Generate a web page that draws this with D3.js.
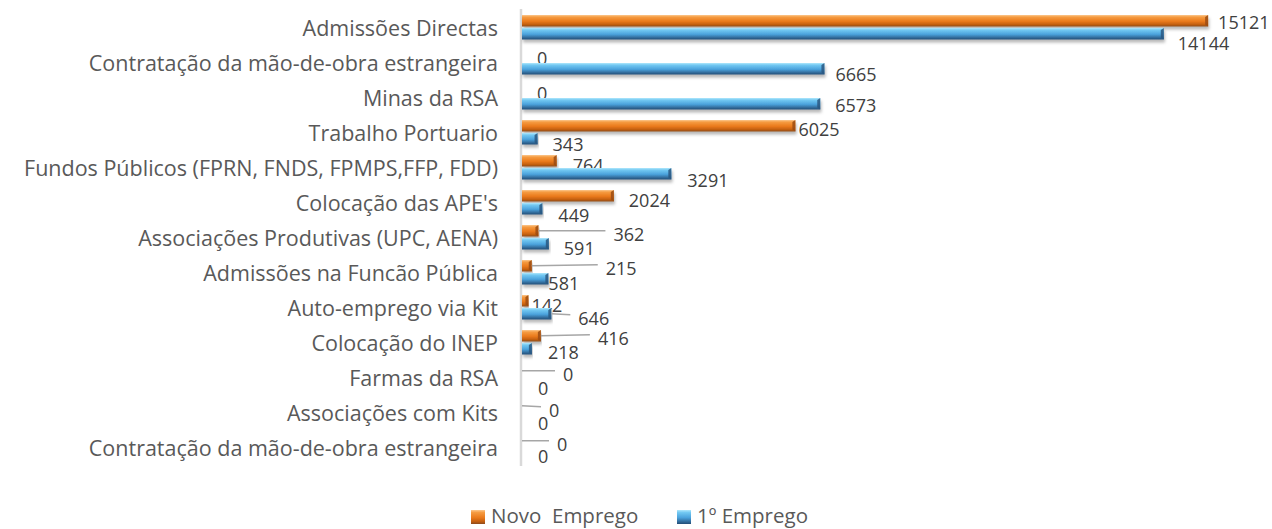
<!DOCTYPE html>
<html>
<head>
<meta charset="utf-8">
<script src="https://cdn.jsdelivr.net/npm/d3@7"></script>
<style>
  body { margin: 0; background: #fff; }
  svg { display: block; font-family: 'Open Sans', sans-serif; }
</style>
</head>
<body>
<div id="chart"></div>
<script>
const categories = [
  'Admissões Directas',
  'Contratação da mão-de-obra estrangeira',
  'Minas da RSA',
  'Trabalho Portuario',
  'Fundos Públicos (FPRN, FNDS, FPMPS,FFP, FDD)',
  "Colocação das APE's",
  'Associações Produtivas (UPC, AENA)',
  'Admissões na Funcão Pública',
  'Auto-emprego via Kit',
  'Colocação do INEP',
  'Farmas da RSA',
  'Associações com Kits',
  'Contratação da mão-de-obra estrangeira '
]
const novoEmprego = [15121, 0, 0, 6025, 764, 2024, 362, 215, 142, 416, 0, 0, 0]
const primeiroEmprego = [14144, 6665, 6573, 343, 3291, 449, 591, 581, 646, 218, 0, 0, 0]
const seriesNames = ['Novo  Emprego', '1º Emprego']

// hand-moved data labels in the original: [dx, dy] from the bar end / bar middle
const nudgeNovo = [[10,1],[15,2],[15,2],[3,3],[16,4],[15,4],[75,3],[74,2],[3,4],[57,2],[41,3],[27,4],[35,3]]
const nudgePrimeiro = [[14,9],[11,5],[15,1],[15,5],[16,6],[16,6],[15,4],[0,4],[27,4],[16,3],[16,4],[16,4],[16,2]]

const width = 1272
const height = 529

const svg = d3.select('#chart').append('svg').attr('width', width).attr('height', height)

const defs = svg.append('defs')
function grad(id, stops) {
  const g = defs.append('linearGradient').attr('id', id).attr('x1', 0).attr('x2', 0).attr('y1', 0).attr('y2', 1)
  stops.forEach(([o, c]) => g.append('stop').attr('offset', o).attr('stop-color', c))
}
grad('gOrange', [[0, '#fcc88e'], [0.18, '#f59b42'], [0.55, '#ea7a1c'], [0.82, '#c45f10'], [1, '#8c4a1c']])
grad('gBlue', [[0, '#b0e8fc'], [0.18, '#72c8f2'], [0.55, '#4aa2dc'], [0.82, '#336e9e'], [1, '#234d76']])
const f = defs.append('filter').attr('id', 'shadow').attr('x', '-5%').attr('y', '-50%').attr('width', '110%').attr('height', '220%')
f.append('feDropShadow').attr('dx', 1).attr('dy', 3).attr('stdDeviation', 1.6).attr('flood-color', '#000').attr('flood-opacity', 0.28)

const x = d3.scaleLinear().domain([0, 16000]).range([522, 1248])
const y = d3.scaleBand().domain(d3.range(categories.length)).range([9.5, 464.5])

// category labels
svg.append('g').selectAll('text').data(categories).join('text')
  .attr('x', 498)
  .attr('y', (d, i) => y(i) + y.bandwidth() / 2)
  .attr('text-anchor', 'end')
  .attr('dominant-baseline', 'central')
  .attr('fill', '#595959')
  .attr('font-size', 21.5)
  .text(d => d.trim())

// axis line
svg.append('line').attr('x1', 521).attr('x2', 521).attr('y1', 9).attr('y2', 466)
  .attr('stroke', '#d9d9d9').attr('stroke-width', 2.5)

const series = [
  { name: seriesNames[0], values: novoEmprego, fill: 'url(#gOrange)', cap: '#9a4b12', off: -12, nudge: nudgeNovo },
  { name: seriesNames[1], values: primeiroEmprego, fill: 'url(#gBlue)', cap: '#2a5780', off: 1, nudge: nudgePrimeiro }
]
const barH = 11.5

series.forEach(s => {
  const g = svg.append('g')
  const rows = s.values.map((v, i) => ({ v, i }))

  // bars
  const bars = g.selectAll('g.bar').data(rows.filter(d => d.v > 0)).join('g').attr('class', 'bar')
    .attr('filter', 'url(#shadow)')
  bars.append('rect')
    .attr('x', x(0))
    .attr('y', d => y(d.i) + y.bandwidth() / 2 + s.off)
    .attr('width', d => x(d.v) - x(0))
    .attr('height', barH)
    .attr('fill', s.fill)
  bars.append('path')
    .attr('d', d => {
      const x1 = x(d.v), y0 = y(d.i) + y.bandwidth() / 2 + s.off
      const w = Math.min(3, x1 - x(0))
      return `M${x1 - w},${y0 + 2}L${x1},${y0}L${x1},${y0 + barH}L${x1 - w},${y0 + barH - 2}Z`
    })
    .attr('fill', s.cap).attr('opacity', 0.85)

  // labels and leader lines
  const lab = d => {
    const mid = y(d.i) + y.bandwidth() / 2 + s.off + barH / 2
    const [dx, dy] = s.nudge[d.i]
    return { x0: x(d.v), mid, lx: x(d.v) + dx, ly: mid + dy }
  }
  g.selectAll('line').data(rows.filter(d => s.nudge[d.i][0] > 20)).join('line')
    .attr('x1', d => lab(d).x0)
    .attr('y1', d => lab(d).mid)
    .attr('x2', d => lab(d).lx - 8)
    .attr('y2', d => lab(d).ly - 3)
    .attr('stroke', '#a6a6a6').attr('stroke-width', 1.5)
  g.selectAll('text').data(rows).join('text')
    .attr('x', d => lab(d).lx)
    .attr('y', d => lab(d).ly)
    .attr('dominant-baseline', 'central')
    .attr('fill', '#404040')
    .attr('font-size', 18)
    .text(d => d.v)
})

// legend
const legend = svg.append('g')
const items = [
  { name: seriesNames[0], fill: 'url(#gOrange)', mx: 471 },
  { name: seriesNames[1], fill: 'url(#gBlue)', mx: 677 }
]
items.forEach(it => {
  legend.append('rect').attr('x', it.mx).attr('y', 510).attr('width', 14).attr('height', 14).attr('fill', it.fill)
  legend.append('text').attr('x', it.mx + 20).attr('y', 515)
    .attr('dominant-baseline', 'central')
    .attr('fill', '#595959').attr('font-size', 20.5)
    .style('white-space', 'pre')
    .text(it.name)
})
</script>
</body>
</html>
